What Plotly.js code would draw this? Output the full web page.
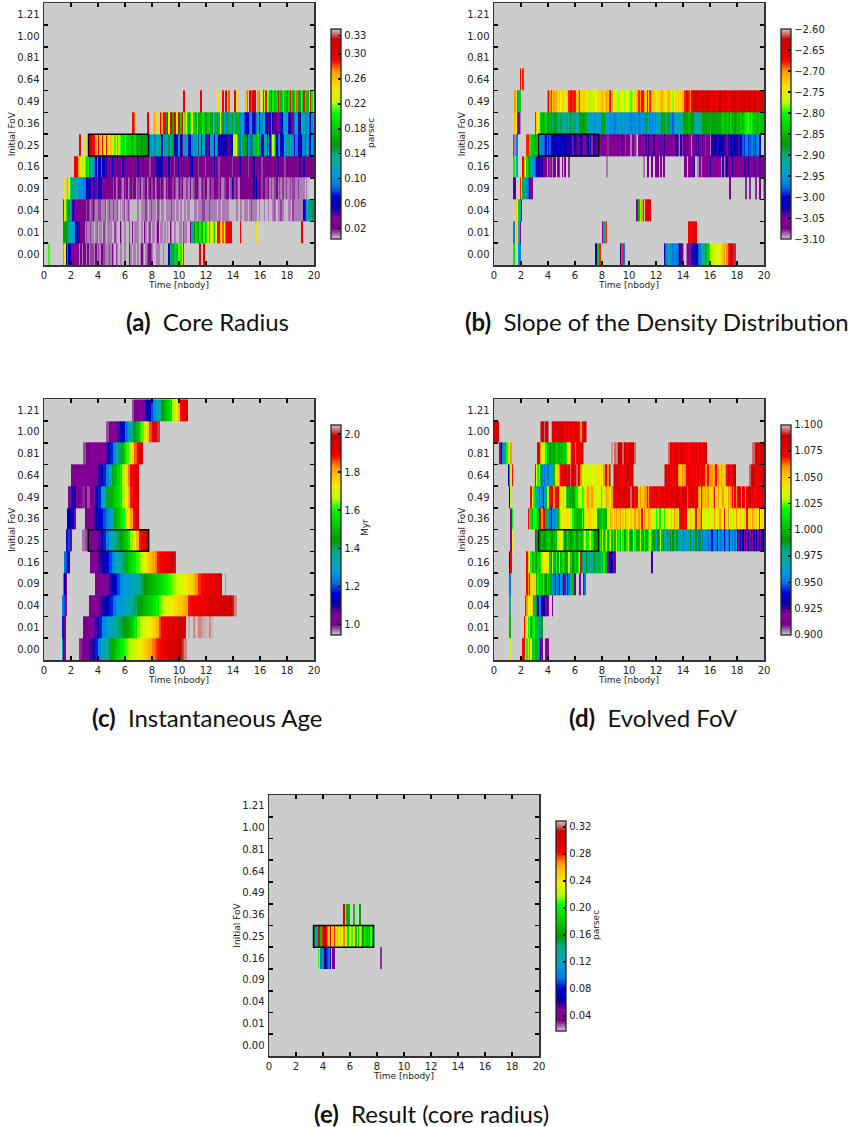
<!DOCTYPE html>
<html><head><meta charset="utf-8">
<script src="https://cdn.plot.ly/plotly-3.0.1.min.js"></script>
<style>html,body{margin:0;padding:0;background:#fff}</style></head>
<body><div id="chart" style="width:853px;height:1127px"></div>
<script>
const _ = null;
const fovLabels = ['0.00','0.01','0.04','0.09','0.16','0.25','0.36','0.49','0.64','0.81','1.00','1.21'];
const timeTicks = [0,2,4,6,8,10,12,14,16,18,20];
const selectedBox = {t0:3.3, t1:7.75, row:5};

// Each segment: [start time, values, optional width of each value in 0.05 time columns (default 2)]
// (a) core radius, in units of 0.005 parsec
const core000 = [[0.3,[42],3],[1.4,[55,48,12,18,12,12,7,7,7,7,7,7,2,4,2,4,4,2,4,2,3,3,3,2,4,2,3,2,4,4,3,2,2,2,3,2,4,2,1,3,2,1,2,2,1,2,2,1,1,4,2,1,2,2,1,2,1,2,4,2,1,2,3,4,4,3,2,1,1,2,2,2,1,1,2,1,1,1,10,26,32,34,28,38,36,42,48,40,48,58]],[11.5,[60],3],[11.8,[60],3]];
const core001 = [[1.4,[32,32,32,32,26,24,24,22,20,12,12,10,10,4,4,4,2,3,2,2,3,2,2,1,2,3,1,2,2,1,3,2,1,2,2,2,1,1,3,2,1,1,4,2,1,2,2,1,1,3,1,4,1,2,2,2,1,1,2,1,4,2,1,2,3,1,2,2,1,2,4,1,2,2,1,2,1,2,1,4,2,1,2,2,1,1,2,2,1,3,2,2,1,1]],[10.8,[6,24,34,32,38,34,32,40,36,32,42,36,40,46,38,44,48,42,38,48,60,58,52,48,56,48,36,60,60,58,60]],[14.5,[60,52]],[15.7,[49],3],[19,[60],3]];
const core004 = [[1.4,[58,50,40,32,32,26,18,14,8,8,8,6,4,4,6,4,4,3,4,3,2,3,4,3,2,2,3,3,2,2,2,3,1,2,3,2,2,3,2,2,3,1,2,1,2,3,1,2,3,2,1,1,1,1,1,2,1,1,2,2,2,3,2,1,2,3,2,2,2,1,3,2,1,2,2,1,2,2,2,2,3,2,2,1,2,2,1,2,1,1,2,1,2,2,1,1,1,2,2,1,2,2,2,3,3,2,2,2,3,2,2,2,2,2,1,2,2,1,2,2,2,2,2,1,1,1,1,1,2,2,1,2,2,1,2,2,2,1,2,3,2,2,2,2,1,2,1,1,1,2,1,1,2,1,1,2,3,2,1,2,2,3,2,2,1,1,1,2,2,1,3,2,2,2,2,2,2,2,2,2]],[19.2,[10,8,20,24,18,26,30,32]]];
const core009 = [[1.4,[49],3],[1.7,[42,48,40,34,26,24,24,24,22,20,20,20,18,18,12,12,10,10,8,10,14,8,6,10,14,12,6,6,4,6,4,4,6,4,3,4,2,3,4,4,3,2,4,3,4,2,3,4,3,4,4,2,3,3,4,2,3,3,4,2,3,4,3,3,4,2,3,4,4,3,4,3,2,4,3,4,5,4,3,4,3,2,3,4,3,4,2,2,3,3,2,4,2,3,3,4,4,3,2,3,4,3,4,4,2,3,4,3,3,4,6,4,3,4,2,2,3,3,4,4,2,3,10,4,3,4,3,2,4,4,4,4,4,6,4,4,4,4,10,4,12,4,4,4,3,4,4,3,3,4,2,3,2,3,3,4,2,3,2,3,3,2,3,2,2,3,2,3,3,2,2,3,2,2,2,2,1,2,1]]];
const core016 = [[2.2,[58,60,60,54,50,48,44,46,42,36,40,32,26,24,20,18,14,22,12,14,18,10,12,8,10,6,8,6,14,6,8,6,12,8,4,6,14,6,10,8,6,6,6,4,8,4,6,12,4,6,4,10,6,4,6,4,3,6,4,6,8,12,10,14,12,10,6,4,8,6,12,4,6,4,3,4,6,12,4,4,6,10,4,6,4,6,10,12,4,6,4,4,3,4,6,4,4,3,4,6,8,4,4,6,12,4,4,3,6,4,4,6,10,4,4,6,4,3,4,4,6,4,4,10,6,4,6,4,4,3,4,6,4,12,4,4,6,4,4,3,4,4,6,4,8,4,4,6,4,4,4,10,6,4,4,4,3,4,6,4,4,4,4,4,4,4,4,10,6,4,10,4,4,4,6,4,4,6]]];
const core025 = [[2.6,[65],3],[2.95,[49],3],[3.3,[60,62,60,58,58,54,48,60,52,48,58,44,48,60,50,46,52,48,44,42,48,40,44,42,40,38,40,42,38,36,40,36,34,36,38,34,32,36,32,30,34,32,30,32,31]],[7.8,[22,20,24,20,18,26,24,20,28,14,24,28,22,26,30,24,26,30,12,10,14,28,20,12,8,22,20,26,24,14,12,18,24,22,28,36,16,26,14,24,22,10,12,8,14,24,22,20,14,26,18,10,14,12,10,12,14,10,8,14,10,12,46,44,48,40,30,18,36,28,32,30,14,20,18,16,30,26,22,34,38,32,18,12,14,28,24,14,22,12,20,46,42,30,14,18,20,12,14,10,24,20,22,28,24,18,20,14,34,18,12,10,14,18,20,16,24,20,14,12,22,18,20,16,14]]];
const core036 = [[6.55,[58,56]],[7.6,[60],3],[8.15,[54,50]],[8.6,[60,54,60,58,30,58,48,60,62,34,60,58,44,60,58,36,62,52,42,48,56,34,40,50,36,38,34,42,30,34,28,40,36,32,30,36,38,32,30,40,24,34,30,28,48,24,30,26,28,18,34,28,22,32,36,24,30,26,34,20,26,22,16,14,10,12,18,24,14,10,8,18,24,12,18,20,26,22,12,10,8,14,20,10,8,10,8,6,8,10,14,20,22,24,22,14,10,8,6,18,22,24,12,10,24,26,24,20,18,22,16,10,20,24,26,22,24]]];
const core049 = [[10.3,[60],3],[11.55,[60],3],[12.8,[49],3],[13.2,[58],3],[13.4,[60],3],[13.6,[56],3],[14.1,[60,48]],[14.9,[52,56,_,60,36,60,62,60,_,54,40,_,48,60,44,60,48,42,36,60,40,34,36,38,60,38,34,38,42,36,34,30,38,60,40,34,36,42,56,34,30,42,38,58,40,36,34,50,58,40,46]]];

// (b) slope of the density distribution, as -slope * 100
const slope000 = [[1.4,[281],3],[1.7,[275,296,296]],[7.5,[303,290,283,268]],[9.3,[303,285,268,297]],[12.6,[303,297,293,292,296,295,297,296,296,297,298,301,304,306,309,310,309,306,305,306,302,301,303,302,301,298,297,295,293,291,288,285,283,280,278,277,278,276,276,275,277,275,273,272,270,273,270,268,266,265,263,262,262]]];
const slope001 = [[1.4,[297],3],[1.6,[272,275,293,306]],[8.0,[305,290,283,268]],[14.4,[267,267,266,266,265,267]]];
const slope004 = [[1.6,[272,275,283,292,300]],[10.5,[305,305,285,278,270,267,310,266,266,265,266]]];
const slope009 = [[1.4,[304,304]],[1.9,[268,278,285,290,293,296,298,304,305,305]],[17.4,[306],3],[18.6,[308],3],[18.9,[308],3],[19.3,[308],3],[19.6,[306],3],[19.9,[309],3]];
const slope016 = [[1.4,[281],3],[1.6,[293],3],[2.1,[267,272,277,282,285,287,290,294,296,298,300,303,303,304,301,305,307,306,309,306,308,305,309,306,305,_,305,308,_,306,_,305,_,_,308]],[8.3,[309],3],[11,[309],3],[11.3,[307],3],[11.6,[307],3],[11.9,[306],3],[12.1,[307],3],[12.3,[306],3],[12.5,[306],3],[14.1,[306,306,_,305,305,305,306,303,_,309,309,305,309,306,306,306,306,305,305,303,305,306,305,306,306,305,305,309,303,309,305,303,306,305,305,303,306,306,305,304,306,307,305,306,304,304,306,303,306,306,305,304,306,306,305,303,304,305,305,303]]];
const slope025 = [[1.4,[268,309,297,296]],[2.4,[268,268,281,282,284,285,286,284,282,292,295,297,296,298,300,297,299,298,301,302,301,300,302,301,302,301,302,301,302,303,302,303,302,304,305,302,303,304,306,303,302,304,305,306,304,302,305,303,308,302,303,304,306,306,305,306,307,306,305,306,308,305,306,305,304,306,305,303,306,305,306,304,306,308,305,306,305,309,306,305,308,309,310,305,306,305,303,305,304,305,303,306,305,306,303,306,305,306,305,304,306,305,303,306,305,306,306,306,305,306,304,303,306,309,303,308,306,304,305,303,306,305,309,305,306,304,306,303,306,305,304,306,308,306,305,304,309,303,302,303,302,304,303,302,303,302,304,303,305,303,304,302,303,301,302,303,301,304,302,300,298,299,297,296,299,298,297,296,298,299,297,296,300,301]]];
const slope036 = [[1.5,[272,275,305,305,309]],[3.0,[268,272,276,278,283,285,287,285,283,286,288,285,287,290,288,286,287,290,292,289,290,292,291,290,289,292,288,290,291,289,292,293,291,288,287,287,288,286,289,291,293,295,294,293,296,295,292,294,291,288,289,287,290,293,295,294,296,295,296,297,295,296,294,295,296,294,296,295,294,296,295,297,296,295,296,294,295,297,296,295,296,295,288,289,294,296,295,296,295,297,293,294,292,291,288,289,287,290,286,288,294,296,298,295,292,293,292,293,292,291,288,287,286,287,285,286,287,288,291,292,291,292,290,292,287,286,287,288,286,287,285,288,287,286,288,285,287,286,285,283,285,286,284,285,287,283,286,285,287,286,284,285,283,284,285,282,281,280,279,281,280,283,284,285,284,285,283,284,285,284]]];
const slope049 = [[1.5,[270,275,288,292,283]],[3.9,[309,267,270,268,272,270,273,271,274,272,275,273,272,275,274,273,268,267,267,268,267,268,273,271,268,273,274,272,273,275,274,273,278,276,272,275,276,274,273,273,272,271,274,273,270,272,268,267,271,275,276,277,276,278,275,277,276,278,277,275,277,276,279,278,275,273,272,271,268,270,267,268,270,273,267,272,268,271,273,272,274,275,274,273,272,271,273,274,275,272,271,274,276,278,275,273,274,272,275,273,272,271,268,266,267,268,270,267,266,265,264,265,266,265,266,264,265,266,265,263,265,267,266,264,265,267,265,264,263,265,266,264,263,265,267,264,266,263,265,264,265,267,265,266,264,263,265,264,266,263,264,265,266,263,264,265,266,264,265,263,264]]];
const slope064 = [[1.9,[267,275,268]]];

// (c) instantaneous age, Myr * 100
const age000 = [[1.3,[130,112,104]],[2.6,[99,102,104,107,109,112,118,125,130,134,138,142,147,151,155,158,160,163,165,167,168,170,172,174,177,179,181,184,186,188,190,191,193,194,195,196,197,199,201,203,205],4]];
const age001 = [[1.3,[118,108,100]],[2.9,[100,102,104,105,108,112,118,125,127,129,131,134,137,140,142,144,147,150,153,158,164,167,169,171,172,174,177,180,186,190,191,192,193,194,194,195,196,198],4],[10.7,[204]],[11,[203,204.5,203,203.5,204,204.5,203,204.5],4]];
const age004 = [[1.3,[123,123,120,104]],[3.3,[101,103,104,105,108,110,112,115,118,122,126,128,128,130,132,135,138,140,143,147,149,151,153,155,157,160,163,166,168,170,172,174,175,177,178,180,182,188,190,190,190,192,190,192,193,194,194,195,195,196,196,197,198,200,203],4]];
const age009 = [[1.4,[130,112,104]],[3.8,[101,103,104,104,106,110,112,115,120,125,127,128,128,131,133,135,138,141,144,147,148,150,152,153,155,158,160,162,164,165,167,169,170,172,174,177,179,183,187,190,190,191,192,191,193,196,199],4],[13.4,[203]]];
const age016 = [[1.5,[122,120,118,115]],[3.4,[102,104,105,108,111,113,116,120,125,130,133,136,140,148,152,155,158,162,165,168,172,176,179,182,184,188,190,192,193,193,196,200],4]];
const age025 = [[1.6,[115,118,120,108,104]],[2.8,[97,98,99,102,104,106,108,112,118,124,130,134,138,141,145,149,153,158,165,172,180,188,192,194,195],4]];
const age036 = [[1.7,[112,113,114,116,112,106,102]],[3.0,[100,103,105,108,111,114,116,120,124,128,131,148,152,156,160,168,174,182,190,193],4]];
const age049 = [[1.8,[106,110,111,102,104,99,101,98,102,105,112,118,128,135,142,148,150,153,156,160,166,172,180,188,192,194],4]];
const age064 = [[2.0,[102,103,104,103,104,103,104,103,104,106,110,113,118,125,132,142,150,155,160,168,175,184,190,192,193],4]];
const age081 = [[2.9,[98,101,103,104,103,104,105,104,107,112,118,125,132,140,148,155,162,170,177,185,191,194],4]];
const age100 = [[4.6,[98,102,104,104,108,112,116,122,128,136,143,150,157,163,170,178,186,192,196,201],4]];
const age121 = [[6.5,[98,101,103,104,107,111,114,120,125,130,137,144,150,154,158,166,172,180,190,193,197],4]];

// (d) evolved FoV * 100
const fov000 = [[1.1,[103],3],[2.1,[107,107,104,102,103,101,104,100,101,99,100,98,95,93,92]],[3.8,[92],3],[3.95,[92],3]];
const fov001 = [[1.1,[100],3],[2.2,[107,105,104,102,103,100,101,102,99,100,97,99,98,99]]];
const fov004 = [[1.1,[98],3],[2.3,[107,106,104,104,104,105,98,97,99,94,98,95,93,94,93,92,93,92,_,_,91]]];
const fov009 = [[1.1,[95],3],[2.4,[107,106,107,105,104,105,103,100,102,99,101,100,102,100,99,101,100,100,95,96,95,94,96,95,93,96,95,93,92,96,94,95,97,98,100]],[5.9,[91],3],[6.3,[92],3],[6.6,[92,95]]];
const fov016 = [[1.1,[93,107]],[2.4,[107,105,104,102,100,101,100,99,101,100,102,104,104,104,104,103,104,100,99,103,98,100,102,99,103,100,101,102,100,99,100,103,100,101,99,100,101,100,102,104,107,98,98,97,99,98,100,97,98,96,99,98,97,100,98,101,100,102,99,100,92,93,93,93,92,91]],[11.65,[92.5],3]];
const fov025 = [[1.2,[92,104]],[3.0,[107,99,100,99,99,100,99,99,100,100,101,100,99,99,100,101,100,103,104,104,103,102,99,100,101,100,99,99,100,101,100,99,100,101,100,100,102,103,101,102,103,104,102,100,99,99,99,100,102,100,103,100,102,103,100,102,103,100,102,100,103,100,102,100,103,102,99,100,102,103,100,99,100,103,102,100,99,100,103,100,99,102,99,100,102,103,101,100,99,100,96,99,100,103,100,95,98,96,99,98,99,97,99,98,97,99,97,98,97,96,95,96,98,97,96,99,97,96,98,99,96,95,99,97,95,96,95,96,95,96,95,94,95,96,95,94,96,95,95,96,94,95,96,95,94,96,95,96,95,96,93,92,93,92,93,92,93,92,93,92,93,92,93,92,93,92,93,92,93,93,92,93]]];
const fov036 = [[1.2,[92,102]],[2.5,[107,102,101,100,102,103,102,100,107,107,106,107,108,100,98,96,95,94,96,95,96,97,100,102,103,104,104,104,105,104,104,103,104,102,100,101,100,100,99,100,102,100,103,104,105,104,105,104,105,104,103,100,99,100,100,101,100,99,100,103,104,106,105,104,105,106,104,105,106,104,105,104,106,105,104,104,105,104,105,106,105,104,106,105,107,104,106,105,104,106,105,103,104,103,103,102,103,102,101,103,104,102,104,103,104,103,105,104,106,104,105,103,107,108,107,108,107,108,104,104,105,104,103,105,107,104,105,106,107,104,103,103,104,103,105,104,103,103,106,104,103,104,106,105,104,107,104,103,106,104,103,104,105,104,106,105,104,105,104,103,105,104,107,104,105,104,106,105,104,105,104,107,104,105,104]]];
const fov049 = [[1.1,[93,103]],[2.7,[107,104,102,100,97,96,95,96,95,94,96,100,103,103,107,108,107,106,107,108,107,105,104,104,105,104,101,99,100,99,98,99,100,101,102,103,104,103,102,105,104,105,106,104,105,106,105,104,103,104,104,103,102,103,104,105,106,105,105,104,106,107,108,108,108,108,108,107,108,108,108,108,108,109,109.5,108,109,107,108,107,105,106,105,105,106,106,107,106,107,108,107,108,107,108,107,108,107,108,108,107,108,108,107,108,108,108,107,108,109,108,108,107,108,108,108,108,109.5,107,108,108,108,107,108,108,106,105,107,106,105,106,105,106,105,104,105,106,107,104,105,106,104,105,106,104,105,104,106,105,106,107,106,107,106,107,108,107,106,108,107,106,107,108,109,107,108,107,108,107,108,108,107,108,107,108,108]]];
const fov064 = [[1.0,[93,100,103,107]],[3.0,[107,104,102,103,100,95,96,95,96,95,95,96,96,98,100,103,104,105,102,107,108,107,108,108,107,108,109.5,107,108,107,108,109.5,108,107,106,104,104,103,104,103,104,103,104,103,104,103,104,105,104,105,104,106,107,108,106,108,109.5,110,109.5,108,109,107,108,107,108,107,108,107,108,108,107,108,108,109.5,110]],[12.6,[109.5,108,107,108,107,108,107,108,107,108,106,105,105,106,105,106,107,108,108,107,108,107,108,107,108,108,107,107,108,107,106,106,107,106,106,106,105,106,107,106,106,105,106,105,105,106,107,108,108,107,108,108,109,110]],[18.9,[109.5,108,109,108,107,108,107,108,108,108,108]]];
const fov081 = [[0.4,[92,93,95,98,100,102,103,_,106]],[3.2,[108,107,106,104,103,103,102,100,100,99,100,100,99,100,101,100,99,100,100,101,100,102,103,104,106,107,108,107,106,107,108,107,108,109,109.5,110,110]],[8.6,[110,109.7,110,109.5,109.7,109.5,109,108.5,109,109.5,109,108,107,108,108,108,108,109,109.5,110]],[12.9,[109.5,108,108,107,108,107,108,107,107,108,108,107,108,107,108,107,107,108,108,107,108,107,107,108,108,107,108,108,109,110]],[19,[110,109.5,109.5,108,108,108,107,108,108,108]]];
const fov100 = [[0,[108,108,109,109]],[3.4,[109.5,109,108,109.5,108,109,109.5,110,109.7,108,108,108,108,108,108,108,108,108,107,108,108,107,108,108,107,108,108,108,107,107,106,107,108,109,109.5,110,110]]];

// (e) result: core radius of the selected models, in units of 0.005 parsec
const res016 = [[3.6,[42,46,20,26,32,14,12,18,20,14,_,7,7]],[8.2,[6],3]];
const res025 = [[3.3,[30,26,24,60,58,36,56,60,62,58,54,50,60,46,50,56,48,52,46,50,44,46,54,46,44,38,46,46,42,46,50,36,44,38,46,42,32,40,36,36,38,34,42,36,26]]];
const res036 = [[5.5,[60],3],[5.7,[34],3],[5.85,[34],3],[6.25,[36],3],[6.65,[32],3]];

const coreRows  = [core000,core001,core004,core009,core016,core025,core036,core049,[],[],[],[]];
const slopeRows = [slope000,slope001,slope004,slope009,slope016,slope025,slope036,slope049,slope064,[],[],[]];
const ageRows   = [age000,age001,age004,age009,age016,age025,age036,age049,age064,age081,age100,age121];
const fovRows   = [fov000,fov001,fov004,fov009,fov016,fov025,fov036,fov049,fov064,fov081,fov100,[]];
const resRows   = [[],[],[],[],res016,res025,res036,[],[],[],[],[]];

const coreTicks  = [0.02,0.06,0.10,0.14,0.18,0.22,0.26,0.30,0.33];
const slopeTicks = [-3.10,-3.05,-3.00,-2.95,-2.90,-2.85,-2.80,-2.75,-2.70,-2.65,-2.60];
const ageTicks   = [1.0,1.2,1.4,1.6,1.8,2.0];
const fovTicks   = [0.900,0.925,0.950,0.975,1.000,1.025,1.050,1.075,1.100];
const resTicks   = [0.04,0.08,0.12,0.16,0.20,0.24,0.28,0.32];

const spectral = [[0,'#cccccc'],[.05,'rgb(119,0,136)'],[.1,'rgb(136,0,153)'],[.15,'rgb(0,0,170)'],[.2,'rgb(0,0,221)'],[.25,'rgb(0,119,221)'],[.3,'rgb(0,153,221)'],[.35,'rgb(0,170,170)'],[.4,'rgb(0,170,136)'],[.45,'rgb(0,153,0)'],[.5,'rgb(0,187,0)'],[.55,'rgb(0,221,0)'],[.6,'rgb(0,255,0)'],[.65,'rgb(187,255,0)'],[.7,'rgb(238,238,0)'],[.75,'rgb(255,204,0)'],[.8,'rgb(255,153,0)'],[.85,'rgb(255,0,0)'],[.9,'rgb(221,0,0)'],[.95,'rgb(204,0,0)'],[1,'#cccccc']];

const W = 853, H = 1127, DT = 0.05, NC = 400;
const TICKFONT = {family:'DejaVu Sans', size:10, color:'#222'};
const LABFONT  = {family:'DejaVu Sans', size:9, color:'#222'};
const CAPFONT  = {family:'Lato, "Noto Sans", sans-serif', size:24, color:'#111'};

// empty cells take the bottom of the scale, which is the same grey as the plot background
function grid(rows, scale, empty){
  return rows.map(segs=>{
    const r = new Array(NC).fill(empty);
    segs.forEach(([t,vals,hold])=>{
      const h = hold||2, s = Math.round(t/DT);
      vals.forEach((v,i)=>{ for(let k=0;k<h;k++){ const c=s+i*h+k; if(c<NC) r[c]= v===null?empty:v*scale; } });
    });
    return r;
  });
}

const panels = [
 {rows:coreRows, scale:0.005,zmin:0.0035,zmax:0.34,  ticks:coreTicks, fmt:'.2f',unit:'parsec',ux:371,uy:133, box:[44,314,3.3,265],  cb:[331,29.3,239],  cap:'<b>(a)</b>  Core Radius', cx:207,cy:321},
 {rows:slopeRows,scale:-0.01,zmin:-3.10,zmax:-2.60,  ticks:slopeTicks,fmt:'.2f',unit:'',      box:[494,764,3.3,265], cb:[781,29.3,239],  cap:'<b>(b)</b>  Slope of the Density Distribution', cx:657,cy:321},
 {rows:ageRows,  scale:0.01, zmin:0.945,zmax:2.049,  ticks:ageTicks,  fmt:'.1f',unit:'Myr',ux:365,uy:528,   box:[44,314,399.3,660],cb:[331,425,634.7], cap:'<b>(c)</b>  Instantaneous Age', cx:207,cy:718},
 {rows:fovRows,  scale:0.01, zmin:0.9,zmax:1.1,      ticks:fovTicks,  fmt:'.3f',unit:'',      box:[494,764,399.3,660],cb:[781,425,634.7],cap:'<b>(d)</b>  Evolved FoV', cx:653,cy:718},
 {rows:resRows,  scale:0.005,zmin:0.0182,zmax:0.3293,ticks:resTicks,  fmt:'.2f',unit:'parsec',ux:596,uy:925, box:[269,539,795,1056], cb:[555.5,821,1030.7],cap:'<b>(e)</b>  Result (core radius)', cx:432,cy:1113}
];

const rowCenters = fovLabels.map((_l,i)=>i);
const rowEdges = fovLabels.map((_l,i)=>i-0.5).concat([11.5]);
const data = [], layout = {
  width:W, height:H, margin:{l:0,r:0,t:0,b:0,autoexpand:false}, paper_bgcolor:'#fff', plot_bgcolor:'#cccccc',
  showlegend:false, shapes:[], annotations:[]
};
panels.forEach((p,i)=>{
  const n = i===0?'':String(i+1);
  const [l,r,t,b] = p.box;
  data.push({type:'heatmap', z:grid(p.rows,p.scale,p.zmin), x0:DT/2, dx:DT, y:rowCenters, xaxis:'x'+n, yaxis:'y'+n,
    zmin:p.zmin, zmax:p.zmax, colorscale:spectral, zsmooth:false, xgap:0.001,
    colorbar:{x:p.cb[0]/W, xanchor:'left', y:1-p.cb[2]/H, yanchor:'bottom', lenmode:'pixels', len:p.cb[2]-p.cb[1],
      thicknessmode:'pixels', thickness:10, xpad:0, ypad:0, outlinecolor:'#222', outlinewidth:1.3, borderwidth:0,
      tickmode:'array', tickvals:p.ticks, tickformat:p.fmt, ticks:'inside', ticklen:3, tickwidth:1.3, tickcolor:'#000',
      tickfont:TICKFONT}});
  layout['xaxis'+n] = {domain:[l/W,r/W], range:[0,20], anchor:'y'+n, layer:'above traces', tickmode:'array', tickvals:timeTicks, ticks:'inside', ticklen:4, tickwidth:1.6, tickcolor:'#000',
    showline:true, linecolor:'#333', linewidth:1.5, mirror:'ticks', showgrid:false, zeroline:false, tickfont:TICKFONT, ticklabelstandoff:0,
    title:{text:'Time [nbody]', font:LABFONT, standoff:0}};
  layout['yaxis'+n] = {domain:[1-b/H,1-t/H], range:[-0.5,11.5], anchor:'x'+n, layer:'above traces', tickmode:'array', tickvals:rowCenters, ticktext:fovLabels, ticks:'inside', ticklen:0, tickwidth:0,
    minor:{tickmode:'array', tickvals:rowEdges, ticks:'inside', ticklen:4, tickwidth:1.6, tickcolor:'#000', showgrid:false},
    showline:true, linecolor:'#333', linewidth:1.5, mirror:'ticks', showgrid:false, zeroline:false, tickfont:TICKFONT, ticklabelstandoff:1,
    title:{text:'Initial FoV', font:LABFONT, standoff:0}};
  layout.shapes.push({type:'rect', xref:'x'+n, yref:'y'+n, x0:selectedBox.t0, x1:selectedBox.t1, y0:selectedBox.row-0.5, y1:selectedBox.row+0.5, line:{color:'#000',width:1.5}, fillcolor:'rgba(0,0,0,0)'});
  layout.annotations.push({xref:'paper', yref:'paper', x:p.cx/W, y:1-p.cy/H, xanchor:'center', yanchor:'middle', showarrow:false, text:p.cap, font:CAPFONT});
  if(p.unit) layout.annotations.push({xref:'paper', yref:'paper', x:p.ux/W, y:1-p.uy/H, xanchor:'center', yanchor:'middle', showarrow:false, textangle:-90, text:p.unit, font:LABFONT});
});
Plotly.newPlot('chart', data, layout, {displayModeBar:false, staticPlot:true});
</script></body></html>
